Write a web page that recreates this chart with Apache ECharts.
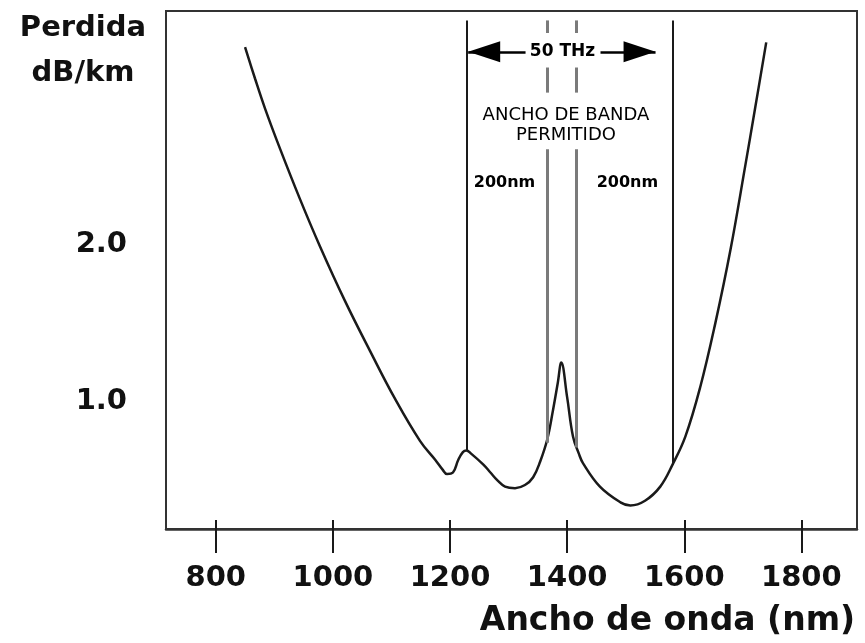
<!DOCTYPE html>
<html>
<head>
<meta charset="utf-8">
<script src="https://cdn.jsdelivr.net/npm/echarts@6/dist/echarts.min.js"></script>
<style>
html,body{margin:0;padding:0;background:#fff;}
#chart{width:865px;height:643px;}
</style>
</head>
<body>
<div id="chart"></div>
<script>
// ---- data ----
const xTickValues = [800, 1000, 1200, 1400, 1600, 1800];
const yTickValues = [1.0, 2.0];
const wavelength = [850, 867, 884, 910, 944, 978, 1021, 1064, 1106, 1149, 1175, 1187, 1195, 1205, 1214, 1222, 1228, 1236, 1257, 1269, 1281, 1294, 1311, 1328, 1342, 1354, 1366, 1376, 1384, 1390, 1400, 1410, 1420, 1427, 1456, 1491, 1508, 1533, 1559, 1580, 1602, 1627, 1653, 1679, 1704, 1721, 1740];
const loss = [3.26, 3.06, 2.87, 2.61, 2.29, 1.99, 1.64, 1.32, 1.02, 0.75, 0.63, 0.57, 0.54, 0.55, 0.63, 0.68, 0.69, 0.67, 0.60, 0.55, 0.50, 0.46, 0.45, 0.47, 0.52, 0.62, 0.76, 0.95, 1.12, 1.25, 1.03, 0.78, 0.67, 0.61, 0.46, 0.36, 0.34, 0.37, 0.46, 0.60, 0.78, 1.09, 1.50, 1.97, 2.50, 2.87, 3.29];

// 200 nm band edges (solid lines): wavelength, top, bottom
const bandEdgeX = [1229, 1580];
const bandEdgeTop = [3.43, 3.43];
const bandEdgeBottom = [0.69, 0.60];

// permitted window (grey lines), broken where the texts are
const windowX = [1366, 1416];
const windowSegTop = [[3.43, 3.13, 2.61], [3.43, 3.13, 2.61]];
const windowSegBottom = [[3.35, 2.97, 0.74], [3.35, 2.97, 0.71]];

// 50 THz arrows
const arrowY = 3.23;
const arrowLeft = [1329, 1231];   // shaft start, tip
const arrowRight = [1457, 1551];  // shaft start, tip

// annotation texts
const noteText = ['50 THz', 'ANCHO DE BANDA\nPERMITIDO', '200nm', '200nm'];
const noteX = [1392, 1398, 1293, 1503];
const noteY = [3.23, 2.764, 2.395, 2.395];

const yName = 'Perdida\ndB/km';
const xName = 'Ancho de onda (nm)';

// ---- chart ----
const FONT = 'DejaVu Sans';
const chart = echarts.init(document.getElementById('chart'), null, {renderer: 'canvas'});

const segs = [];
bandEdgeX.forEach((x, i) => {
  segs.push([{coord: [x, bandEdgeTop[i]], lineStyle: {color: '#1a1a1a', width: 2, type: 'solid'}}, {coord: [x, bandEdgeBottom[i]]}]);
});
windowX.forEach((x, i) => {
  windowSegTop[i].forEach((t, j) => {
    segs.push([{coord: [x, t], lineStyle: {color: '#7a7a7a', width: 3, type: 'solid'}}, {coord: [x, windowSegBottom[i][j]]}]);
  });
});
[arrowLeft, arrowRight].forEach(a => {
  segs.push([{coord: [a[0], arrowY], lineStyle: {color: '#000', width: 2.5, type: 'solid'}}, {coord: [a[1], arrowY]}]);
});

const notes = noteText.map((t, i) => {
  const bold = i !== 1;
  const size = i === 0 ? 17 : (i === 1 ? 18 : 16);
  return {
    value: [noteX[i], noteY[i]],
    label: {
      show: true, position: 'inside', formatter: t,
      fontFamily: FONT, fontWeight: bold ? 'bold' : 'normal', fontSize: size,
      color: '#000', textBorderWidth: 0, opacity: 1, lineHeight: 20, align: 'center', verticalAlign: 'middle'
    }
  };
});

const xCommon = {
  type: 'value', min: 715, max: 1895,
  splitLine: {show: false}
};

chart.setOption({
  animation: false,
  backgroundColor: '#fff',
  grid: {left: 166, right: 8, top: 11, bottom: 114, show: true, borderColor: '#333', borderWidth: 2, containLabel: false, outerBoundsMode: 'none'},
  xAxis: [
    Object.assign({}, xCommon, {
      position: 'bottom',
      name: xName, nameLocation: 'middle', nameGap: 76,
      nameTextStyle: {fontFamily: FONT, fontWeight: 'bold', fontSize: 33, color: '#111', align: 'center', verticalAlign: 'top', lineHeight: 33, padding: [0, 0, 0, 312]},
      axisLine: {show: true, lineStyle: {color: '#333', width: 2.5}},
      axisTick: {show: true, inside: false, length: 24, customValues: xTickValues, lineStyle: {color: '#1a1a1a', width: 2}},
      axisLabel: {show: true, margin: 35, customValues: xTickValues, formatter: v => String(v), fontFamily: FONT, fontWeight: 'bold', fontSize: 29, color: '#111'}
    }),
    Object.assign({}, xCommon, {
      position: 'bottom',
      axisLine: {show: false},
      axisTick: {show: true, inside: true, length: 9, customValues: xTickValues, lineStyle: {color: '#1a1a1a', width: 2}},
      axisLabel: {show: false}
    })
  ],
  yAxis: {
    type: 'value', min: 0.19, max: 3.49,
    splitLine: {show: false},
    name: yName, nameLocation: 'end', nameGap: 5,
    nameTextStyle: {fontFamily: FONT, fontWeight: 'bold', fontSize: 29, color: '#111', align: 'center', verticalAlign: 'top', lineHeight: 45, padding: [0, 166, 0, 0]},
    axisLine: {show: true, lineStyle: {color: '#333', width: 2}},
    axisTick: {show: false},
    axisLabel: {show: true, margin: 39, padding: [6, 0, 0, 0], customValues: yTickValues, formatter: v => v.toFixed(1), fontFamily: FONT, fontWeight: 'bold', fontSize: 29, color: '#111'}
  },
  series: [
    {
      name: 'Perdida', type: 'line', silent: true, smooth: 0.4,
      showSymbol: false, symbol: 'none',
      data: wavelength.map((w, i) => [w, loss[i]]),
      lineStyle: {color: '#1a1a1a', width: 2.5},
      z: 3
    },
    {
      name: 'guides', type: 'line', data: [], silent: true,
      markLine: {silent: true, symbol: ['none', 'none'], label: {show: false}, animation: false, data: segs},
      z: 2
    },
    {
      name: 'arrows', type: 'scatter', silent: true, symbol: 'triangle', symbolSize: [21, 32],
      itemStyle: {color: '#000', opacity: 1},
      data: [
        {value: [arrowLeft[1], arrowY], symbolRotate: 90, symbolOffset: [16, 0]},
        {value: [arrowRight[1], arrowY], symbolRotate: -90, symbolOffset: [-16, 0]}
      ],
      z: 4
    },
    {
      name: 'notes', type: 'scatter', silent: true, symbolSize: 0,
      itemStyle: {opacity: 1},
      data: notes, z: 5
    }
  ]
});
</script>
</body>
</html>
